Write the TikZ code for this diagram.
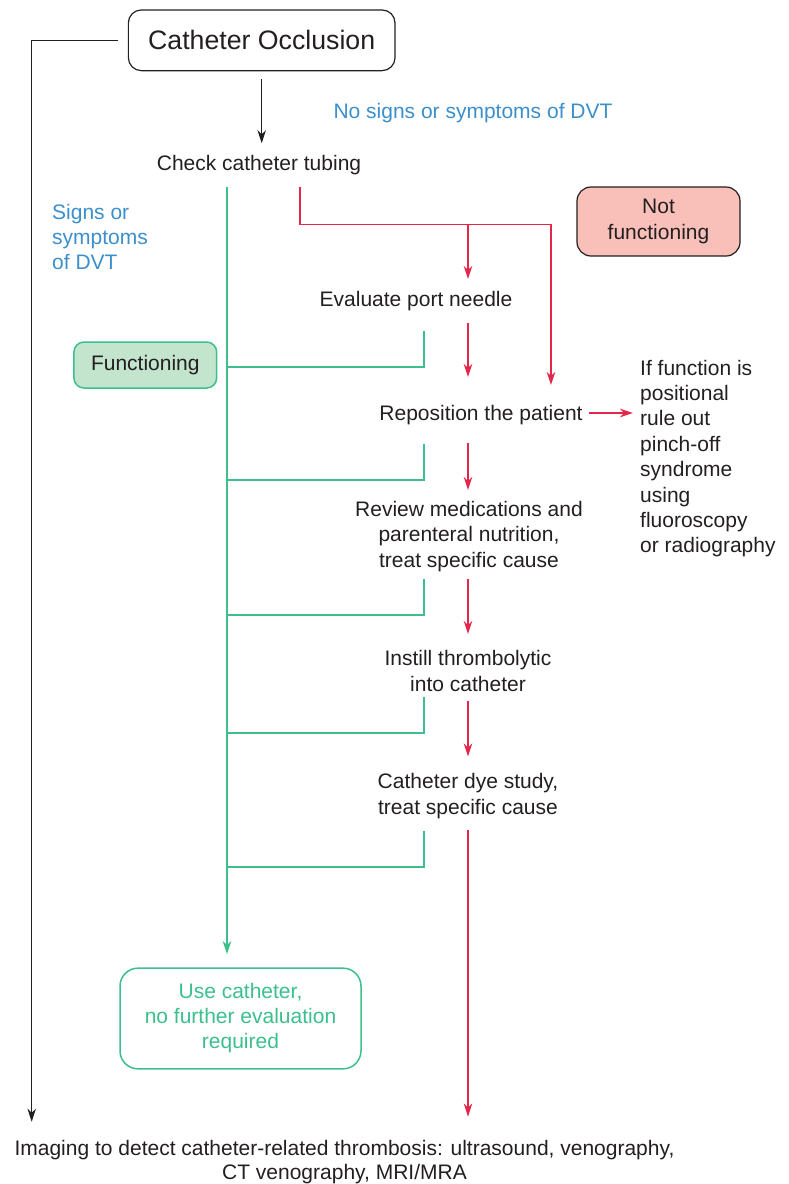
\documentclass[tikz,border=0pt]{standalone}
\usepackage{fontspec}
\setmainfont{Liberation Sans}
\usetikzlibrary{arrows.meta}

\begin{document}
\begin{tikzpicture}[x=1pt,y=-1pt,
  every node/.style={inner sep=0pt,text=ink,font=\fontsize{21}{25.5}\selectfont},
  stepnode/.style={align=center},
  notenode/.style={align=left,anchor=west},
  dvtnode/.style={text=dvtblue},
  startbox/.style={draw=ink,line width=1.2pt,rounded corners=13pt,
    minimum width=266.7pt,minimum height=60.7pt,font=\fontsize{26.7}{30}\selectfont},
  nofuncbox/.style={draw=ink,fill=nofill,line width=1.2pt,rounded corners=14pt,
    align=center,minimum width=163pt,minimum height=69pt},
  funcbox/.style={draw=okgreen,fill=okfill,line width=1.5pt,rounded corners=10pt,
    minimum width=142.7pt,minimum height=46pt},
  usebox/.style={draw=okgreen,line width=1.5pt,rounded corners=18pt,text=okgreen,
    align=center,minimum width=241pt,minimum height=100.7pt,font=\fontsize{21}{25}\selectfont},
  tip/.style={-{Stealth[length=13pt,width=8.5pt,inset=4pt]}},
  blackline/.style={ink,line width=1.2pt},
  redline/.style={nogo,line width=1.6pt},
  greenline/.style={okgreen,line width=1.8pt}]
\definecolor{ink}{HTML}{231F20}
\definecolor{dvtblue}{HTML}{3B8FCB}
\definecolor{nogo}{HTML}{E4264B}
\definecolor{nofill}{HTML}{F9C0BA}
\definecolor{okgreen}{HTML}{3CBF8C}
\definecolor{okfill}{HTML}{C3E4CD}
\useasboundingbox (0,0) rectangle (789,1184);

% boxes and steps
\node[startbox] (occl) at (261.7,40.3) {Catheter Occlusion};
\node[stepnode] (check) at (259,165.2) {Check catheter tubing};
\node[dvtnode] (nosigns) at (473,112.9) {No signs or symptoms of DVT};
\node[dvtnode,notenode,font=\fontsize{21}{25}\selectfont] (signs) at (52,237.4) {Signs or\\symptoms\\of DVT};
\node[nofuncbox] (nofunc) at (658.5,221.5) {Not\\functioning};
\node[stepnode] (port) at (416,301.5) {Evaluate port needle};
\node[funcbox] (func) at (145.3,365) {Functioning};
\node[stepnode] (repos) at (481,415.5) {Reposition the patient};
\node[notenode,font=\fontsize{21}{25.4}\selectfont] (ifpos) at (640,458.5)
  {If function is\\positional\\rule out\\pinch-off\\syndrome\\using\\fluoroscopy\\or radiography};
\node[stepnode] (review) at (469,536.2) {Review medications and\\parenteral nutrition,\\treat specific cause};
\node[stepnode] (instill) at (468,671.2) {Instill thrombolytic\\into catheter};
\node[stepnode] (dye) at (468,796.2) {Catheter dye study,\\treat specific cause};
\node[usebox] (use) at (240.5,1018.5) {Use catheter,\\no further evaluation\\required};
\node[stepnode,font=\fontsize{21}{23.5}\selectfont] (imaging) at (344.5,1162)
  {Imaging to detect catheter-related thrombosis: ultrasound, venography,\\CT venography, MRI/MRA};

% columns of the flow
\coordinate (trunk) at (227,0);
\coordinate (gcol) at (424,0);
\coordinate (rcol) at (468,0);
\coordinate (rsplit) at (300,224.5);
\coordinate (rright) at (551,224.5);
\coordinate (lx) at (31.7,1121.7);

% black
\draw[blackline,tip] ([yshift=-8pt]occl.south) -- ([yshift=12pt]check.north -| occl.south);
\draw[blackline,tip] ([xshift=-10pt]occl.west) -| (lx);

% not functioning
\draw[redline,tip] ([yshift=-12pt]check.south -| rsplit) -- (rsplit) -- (rright)
  -- ([yshift=20.6pt]repos.north -| rright);
\draw[redline,tip] (rsplit -| rcol) -- ([yshift=12.6pt]port.north -| rcol);
\foreach \a/\b/\s/\e in {port/repos/11.7pt/28.6pt,repos/review/17.6pt/10.7pt,
  review/instill/7pt/16.6pt,instill/dye/9.2pt/17pt,dye/imaging/11.2pt/23.7pt}
  \draw[redline,tip] ([yshift=-\s]\a.south -| rcol) -- ([yshift=\e]\b.north -| rcol);
\draw[redline,tip] ([xshift=6pt,yshift=2.5pt]repos.east) -- ([xshift=-7pt,yshift=2.5pt]repos.east -| ifpos.west);

% functioning
\draw[greenline,tip] ([yshift=-12pt]check.south -| trunk) -- ([yshift=13.3pt]use.north -| trunk);
\foreach \n/\s in {port/19.4pt,repos/18.6pt,review/7.3pt,instill/5.2pt,dye/12pt}
  \draw[greenline] ([yshift=-\s]\n.south -| gcol) |- ([yshift=-\s-36pt]\n.south -| trunk);
\end{tikzpicture}
\end{document}
